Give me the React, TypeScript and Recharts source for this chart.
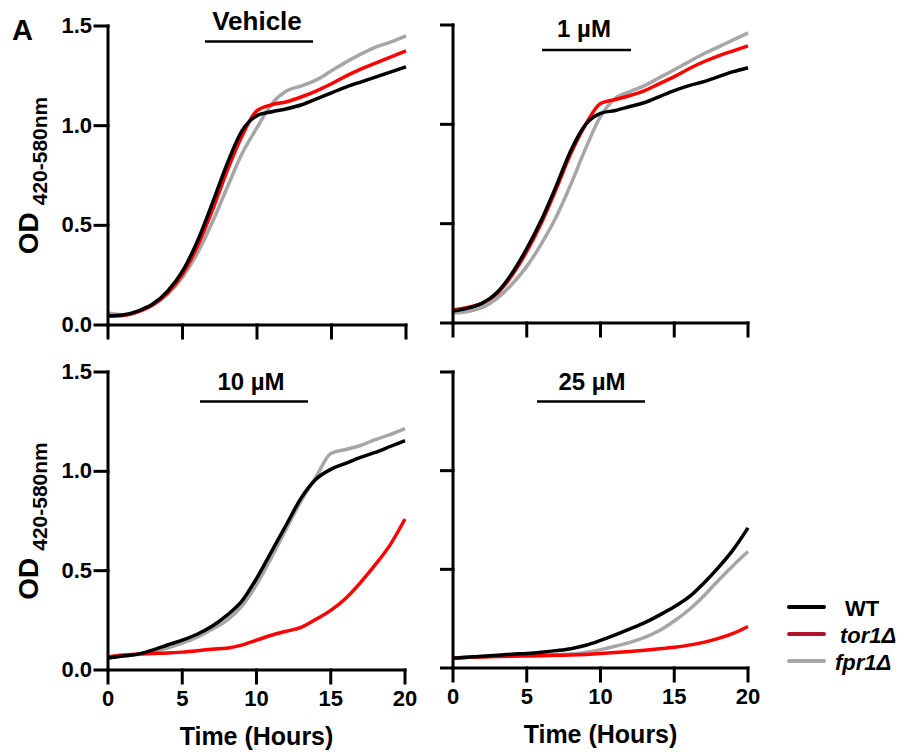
import { LineChart, Line, XAxis, YAxis, Legend } from "recharts";

const FONT = "'Liberation Sans', Arial, Helvetica, sans-serif";

const hours = [0, 1, 2, 3, 4, 5, 6, 7, 8, 9, 10, 11, 12, 13, 14, 15, 16, 17, 18, 19, 20];
const xTicks = [0, 5, 10, 15, 20];
const yTicks = [0, 0.5, 1.0, 1.5];
const panelTitles = ["Vehicle", "1 µM", "10 µM", "25 µM"];
const strainNames = ["WT", "tor1Δ", "fpr1Δ"];

// OD 420-580nm, one value per hour
const vehicleWT = [0.045, 0.05, 0.07, 0.105, 0.17, 0.27, 0.42, 0.61, 0.81, 0.975, 1.05, 1.07, 1.085, 1.105, 1.135, 1.165, 1.195, 1.22, 1.245, 1.27, 1.295];
const vehicleTor1 = [0.045, 0.048, 0.066, 0.1, 0.16, 0.255, 0.395, 0.575, 0.775, 0.95, 1.075, 1.105, 1.12, 1.145, 1.175, 1.21, 1.25, 1.285, 1.315, 1.345, 1.375];
const vehicleFpr1 = [0.06, 0.052, 0.066, 0.1, 0.155, 0.24, 0.36, 0.515, 0.69, 0.86, 0.99, 1.11, 1.175, 1.2, 1.23, 1.275, 1.32, 1.36, 1.395, 1.42, 1.45];

const oneWT = [0.06, 0.075, 0.1, 0.155, 0.25, 0.375, 0.52, 0.69, 0.87, 1.0, 1.055, 1.07, 1.09, 1.11, 1.14, 1.17, 1.195, 1.215, 1.24, 1.265, 1.285];
const oneTor1 = [0.065, 0.078, 0.1, 0.148, 0.24, 0.36, 0.505, 0.675, 0.855, 1.0, 1.105, 1.125, 1.145, 1.17, 1.205, 1.24, 1.28, 1.315, 1.345, 1.37, 1.395];
const oneFpr1 = [0.05, 0.058, 0.078, 0.125, 0.195, 0.285, 0.4, 0.535, 0.7, 0.88, 1.04, 1.13, 1.165, 1.195, 1.235, 1.275, 1.315, 1.355, 1.39, 1.425, 1.46];

const tenWT = [0.06, 0.07, 0.08, 0.1, 0.126, 0.15, 0.18, 0.22, 0.275, 0.345, 0.46, 0.595, 0.73, 0.865, 0.96, 1.01, 1.04, 1.07, 1.095, 1.125, 1.155];
const tenTor1 = [0.065, 0.075, 0.08, 0.083, 0.085, 0.09, 0.097, 0.105, 0.11, 0.125, 0.15, 0.175, 0.195, 0.215, 0.255, 0.3, 0.36, 0.44, 0.53, 0.63, 0.76];
const tenFpr1 = [0.06, 0.07, 0.078, 0.09, 0.11, 0.135, 0.165, 0.205, 0.25, 0.32, 0.43, 0.565, 0.71, 0.85, 0.97, 1.09, 1.11, 1.13, 1.16, 1.185, 1.215];

const twentyFiveWT = [0.05, 0.055, 0.06, 0.065, 0.07, 0.074, 0.08, 0.088, 0.098, 0.115, 0.14, 0.168, 0.198, 0.23, 0.268, 0.31, 0.36, 0.43, 0.51, 0.6, 0.71];
const twentyFiveTor1 = [0.05, 0.054, 0.056, 0.058, 0.06, 0.061, 0.062, 0.064, 0.066, 0.069, 0.073, 0.078, 0.084, 0.09, 0.097, 0.105, 0.116, 0.13, 0.15, 0.175, 0.21];
const twentyFiveFpr1 = [0.05, 0.055, 0.058, 0.06, 0.062, 0.064, 0.066, 0.068, 0.071, 0.079, 0.093, 0.11, 0.13, 0.155, 0.19, 0.238, 0.295, 0.365, 0.445, 0.52, 0.59];

const COLORS = { wt: "#000000", tor1: "#ff0000", fpr1: "#a6a6a6" };
const LEGEND_COLORS = ["#000000", "#b5112f", "#a6a6a6"];

const buildRows = (wt: number[], tor1: number[], fpr1: number[]) =>
  hours.map((h, i) => ({ h, wt: wt[i], tor1: tor1[i], fpr1: fpr1[i] }));

const axisStyle = { stroke: "#000", strokeWidth: 3, strokeLinecap: "square" as const };

const renderYTick = (show: boolean) => (props: any) => {
  const { x, y, payload } = props;
  if (!show) return <g />;
  return (
    <text x={x} y={y} dy={7} textAnchor="end" fontFamily={FONT} fontWeight="bold" fontSize={22} fill="#000">
      {Number(payload.value).toFixed(1)}
    </text>
  );
};

const renderXTick = (show: boolean) => (props: any) => {
  const { x, y, payload } = props;
  if (!show) return <g />;
  return (
    <text x={x} y={y} dy={15} textAnchor="middle" fontFamily={FONT} fontWeight="bold" fontSize={22} fill="#000">
      {payload.value}
    </text>
  );
};

const renderYTitle = (props: any) => {
  const { viewBox } = props;
  const cy = viewBox.y + viewBox.height / 2;
  return (
    <text
      transform={`translate(38, ${cy}) rotate(-90)`}
      textAnchor="middle"
      fontFamily={FONT}
      fontWeight="bold"
      fill="#000"
    >
      <tspan fontSize={28}>OD</tspan>
      <tspan fontSize={21} dx={7} dy={9}>{"420-580nm"}</tspan>
    </text>
  );
};

const renderXTitle = (props: any) => {
  const { viewBox } = props;
  return (
    <text
      x={viewBox.x + viewBox.width / 2}
      y={viewBox.y + 75}
      textAnchor="middle"
      fontFamily={FONT}
      fontWeight="bold"
      fontSize={25}
      fill="#000"
    >
      Time (Hours)
    </text>
  );
};

const renderLegend = () => (
  <svg width={125} height={95}>
    {strainNames.map((name, i) => (
      <g key={name}>
        <line
          x1={4}
          x2={39}
          y1={22 + i * 27}
          y2={22 + i * 27}
          stroke={LEGEND_COLORS[i]}
          strokeWidth={4}
          strokeLinecap="round"
        />
        <text
          x={60 - i * 5}
          y={31 + i * 27}
          fontFamily={FONT}
          fontWeight="bold"
          fontStyle={i === 0 ? "normal" : "italic"}
          fontSize={22}
          fill="#000"
        >
          {name}
        </text>
      </g>
    ))}
  </svg>
);

type PanelProps = {
  data: any[];
  left: number;
  top: number;
  width: number;
  height: number;
  margin: { top: number; right: number; bottom: number; left: number };
  yWidth: number;
  xHeight: number;
  yLabels: boolean;
  xLabels: boolean;
  legend?: boolean;
};

const Panel = ({ data, left, top, width, height, margin, yWidth, xHeight, yLabels, xLabels, legend }: PanelProps) => (
  <div style={{ position: "absolute", left, top, width, height }}>
    <LineChart width={width} height={height} data={data} margin={margin}>
      <XAxis
        dataKey="h"
        type="number"
        domain={[0, 20]}
        ticks={xTicks}
        height={xHeight}
        axisLine={axisStyle}
        tickLine={axisStyle}
        tickSize={13}
        tickMargin={8}
        tick={renderXTick(xLabels)}
        label={xLabels ? renderXTitle : undefined}
      />
      <YAxis
        type="number"
        domain={[0, 1.5]}
        ticks={yTicks}
        width={yWidth}
        axisLine={axisStyle}
        tickLine={axisStyle}
        tickSize={13}
        tickMargin={3}
        tick={renderYTick(yLabels)}
        label={yLabels ? renderYTitle : undefined}
      />
      <Line dataKey="fpr1" type="monotone" stroke={COLORS.fpr1} strokeWidth={3.5} dot={false} isAnimationActive={false} />
      <Line dataKey="tor1" type="monotone" stroke={COLORS.tor1} strokeWidth={3.5} dot={false} isAnimationActive={false} />
      <Line dataKey="wt" type="monotone" stroke={COLORS.wt} strokeWidth={3.5} dot={false} isAnimationActive={false} />
      {legend && (
        <Legend
          layout="vertical"
          align="center"
          verticalAlign="middle"
          content={renderLegend}
          wrapperStyle={{ position: "absolute", left: 345, top: 245, width: 125, height: 95 }}
        />
      )}
    </LineChart>
  </div>
);

const titleSpecs = [
  { x: 257, y: 30, lineY: 41.5, x1: 205, x2: 313 },
  { x: 584, y: 37, lineY: 50, x1: 542, x2: 631 },
  { x: 251, y: 390, lineY: 401.5, x1: 200, x2: 308 },
  { x: 592, y: 390, lineY: 401.5, x1: 537, x2: 645 },
];

export default function App() {
  return (
    <div style={{ position: "absolute", left: 0, top: 0, width: 903, height: 752, background: "#fff" }}>
      <Panel
        data={buildRows(vehicleWT, vehicleTor1, vehicleFpr1)}
        left={0}
        top={0}
        width={430}
        height={340}
        margin={{ top: 26, right: 24, bottom: 0, left: 8 }}
        yWidth={100}
        xHeight={15}
        yLabels
        xLabels={false}
      />
      <Panel
        data={buildRows(oneWT, oneTor1, oneFpr1)}
        left={440}
        top={0}
        width={330}
        height={340}
        margin={{ top: 25, right: 22, bottom: 2, left: 0 }}
        yWidth={13}
        xHeight={15}
        yLabels={false}
        xLabels={false}
      />
      <Panel
        data={buildRows(tenWT, tenTor1, tenFpr1)}
        left={0}
        top={340}
        width={430}
        height={412}
        margin={{ top: 32, right: 25, bottom: 0, left: 8 }}
        yWidth={100}
        xHeight={82}
        yLabels
        xLabels
      />
      <Panel
        data={buildRows(twentyFiveWT, twentyFiveTor1, twentyFiveFpr1)}
        left={440}
        top={340}
        width={463}
        height={412}
        margin={{ top: 32, right: 155, bottom: 2, left: 0 }}
        yWidth={13}
        xHeight={82}
        yLabels={false}
        xLabels
        legend
      />
      <svg
        width={903}
        height={752}
        style={{ position: "absolute", left: 0, top: 0, pointerEvents: "none" }}
      >
        <text x={12} y={40} fontFamily={FONT} fontWeight="bold" fontSize={29} fill="#000">
          A
        </text>
        {titleSpecs.map((t, i) => (
          <g key={panelTitles[i]}>
            <text
              x={t.x}
              y={t.y}
              textAnchor="middle"
              fontFamily={FONT}
              fontWeight="bold"
              fontSize={i === 0 ? 26 : 24}
              fill="#000"
            >
              {panelTitles[i]}
            </text>
            <line x1={t.x1} x2={t.x2} y1={t.lineY} y2={t.lineY} stroke="#000" strokeWidth={2.5} />
          </g>
        ))}
      </svg>
    </div>
  );
}
